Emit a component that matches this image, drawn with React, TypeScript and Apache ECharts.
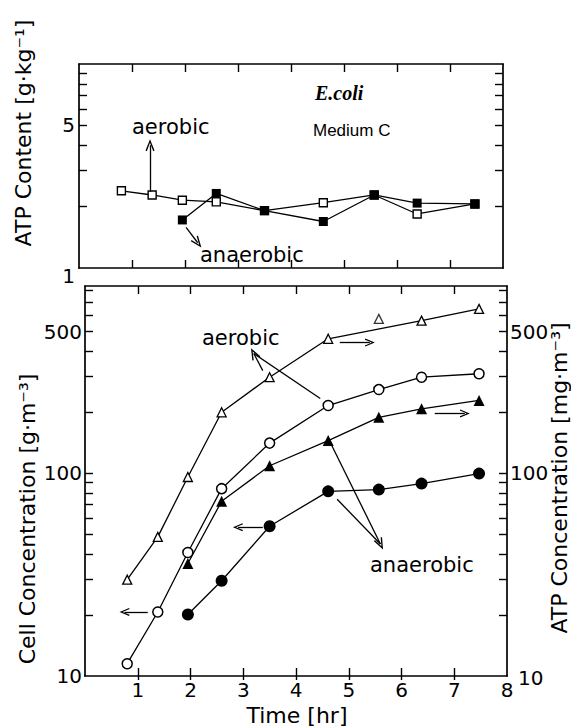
import React, { useEffect, useRef } from "react";
import * as echarts from "echarts";

// Sampling times [hr], shared by every curve
const hours = [0.8, 1.38, 1.95, 2.59, 3.5, 4.61, 5.57, 6.38, 7.47];
// anaerobic runs start at the third sampling time
const anaerobicStart = 2;

// ATP content [g/kg] (upper panel)
const atpContentAerobic = [2.39, 2.28, 2.15, 2.11, 1.91, 2.09, 2.28, 1.84, 2.06];
const atpContentAnaerobic = [1.72, 2.32, 1.91, 1.69, 2.28, 2.08, 2.06];

// Cell concentration [g/m3] (lower panel, left scale)
const cellAerobic = [11.5, 20.7, 40.7, 84, 141, 216, 259, 298, 310];
const cellAnaerobic = [20.1, 29.5, 54.8, 81.5, 83.1, 89, 99.7];

// ATP concentration [mg/m3] (lower panel, right scale)
const atpConcAerobic = [29.9, 48.6, 95.9, 200, 298, 461, 578, 567, 648];
const atpConcAnaerobic = [35.9, 72.8, 109, 145, 189, 208, 229];
// the 5.5 h aerobic ATP sample sits off its connecting line
const atpConcAerobicOffLine = [6];

// Axis ticks and labels
const hourTicks = [1, 2, 3, 4, 5, 6, 7];
const hourLabels = [1, 2, 3, 4, 5, 6, 7, 8];
const contentTicks = [2, 3, 4, 5, 6, 7, 8, 9];
const contentLabels = [1, 5];
const concTicks = [20, 30, 40, 50, 60, 70, 80, 90, 100, 200, 300, 400, 500, 600, 700, 800];
const concLabels = [10, 100, 500];

const black = "#000";
const FONT = "DejaVu Sans";
const ARROW = "path://M5,0 L10,12 L8.6,12.6 L5,3.8 L1.4,12.6 L0,12 Z";

const pairs = (vals: number[], start = 0) => vals.map((v, i) => [hours[start + i], v]);

const arrowTo = (from: number[], to: number[], size = [9, 12]) => [
  { coord: from, symbol: "none" },
  { coord: to, symbol: ARROW, symbolSize: size },
];
const plain = (from: number[], to: number[]) => [
  { coord: from, symbol: "none" },
  { coord: to, symbol: "none" },
];

const markLines = (data: any[]) => ({
  silent: true,
  animation: false,
  label: { show: false },
  emphasis: { disabled: true },
  lineStyle: { color: black, width: 1.3, type: "solid" },
  data,
});

const axisLineStyle = { color: black, width: 1.7 };
const tickLineStyle = { color: black, width: 1.4 };

const hAxis = (gridIndex: number, position: string, extra: any = {}) => ({
  type: "value",
  gridIndex,
  position,
  min: 0,
  max: 8,
  interval: 1,
  axisLine: { show: true, onZero: false, lineStyle: axisLineStyle },
  axisTick: { show: true, inside: true, length: 8, customValues: hourTicks, lineStyle: tickLineStyle },
  axisLabel: { show: false },
  splitLine: { show: false },
  ...extra,
});

const logAxis = (
  gridIndex: number,
  position: string,
  min: number,
  max: number,
  ticks: number[],
  labels: any
) => ({
  type: "log",
  logBase: 10,
  gridIndex,
  position,
  min,
  max,
  axisLine: { show: true, onZero: false, lineStyle: axisLineStyle },
  axisTick: { show: true, inside: true, length: 8, customValues: ticks, lineStyle: tickLineStyle },
  axisLabel: labels,
  minorTick: { show: false },
  splitLine: { show: false },
});

const tickLabel = (values: number[], margin: number, extra: any = {}) => ({
  show: true,
  customValues: values,
  color: black,
  fontFamily: FONT,
  fontSize: 20,
  margin,
  formatter: (v: number) => String(Math.round(v)),
  ...extra,
});

// lowest label of an axis is nudged (down / right) off the corner
const nudgedLowest = (lowest: number, padding: number[]) => ({
  formatter: (v: number) =>
    Math.round(v) === lowest ? `{low|${Math.round(v)}}` : String(Math.round(v)),
  rich: { low: { fontFamily: FONT, fontSize: 20, color: black, padding } },
});

const text = (x: number, y: number, s: string, extra: any = {}, rotation = 0) => ({
  type: "text",
  x,
  y,
  rotation,
  silent: true,
  style: {
    text: s,
    fill: black,
    fontFamily: FONT,
    fontSize: 21,
    align: "left",
    verticalAlign: "middle",
    ...extra,
  },
});

const titleStyle = { fontSize: 22, align: "center" };

const option: any = {
  animation: false,
  backgroundColor: "#fff",
  grid: [
    { left: 79, top: 64, width: 424, height: 204, outerBoundsMode: "none" },
    { left: 85, top: 286, width: 422, height: 390, outerBoundsMode: "none" },
  ],
  xAxis: [
    hAxis(0, "bottom"),
    hAxis(0, "top"),
    hAxis(1, "bottom", {
      axisLabel: tickLabel(hourLabels, 4),
    }),
    hAxis(1, "bottom", {
      axisLine: { show: false },
      axisTick: { show: true, inside: false, length: 4, customValues: hourTicks, lineStyle: tickLineStyle },
    }),
    hAxis(1, "top"),
  ],
  yAxis: [
    logAxis(0, "left", 1, 10, contentTicks, tickLabel(contentLabels, 4, nudgedLowest(1, [16, 0, 0, 0]))),
    logAxis(0, "right", 1, 10, contentTicks, { show: false }),
    logAxis(1, "left", 10, 840, concTicks, tickLabel(concLabels, 3)),
    logAxis(1, "right", 10, 840, concTicks, tickLabel(concLabels, 3, nudgedLowest(10, [4, 0, 0, 8]))),
  ],
  graphic: [
    text(23, 133, "ATP Content [g·kg⁻¹]", titleStyle, Math.PI / 2),
    text(27, 519, "Cell Concentration [g·m⁻³]", titleStyle, Math.PI / 2),
    text(559, 478, "ATP Concentration [mg·m⁻³]", titleStyle, Math.PI / 2),
    text(297, 715, "Time [hr]", titleStyle),
    text(315, 93, "E.coli", {
      fontFamily: "Liberation Serif",
      fontStyle: "italic",
      fontWeight: "bold",
      fontSize: 20,
    }),
    text(313, 130, "Medium C", { fontFamily: "Liberation Sans", fontSize: 17 }),
    text(132, 127, "aerobic"),
    text(200, 255, "anaerobic"),
    text(202, 338, "aerobic"),
    text(370, 565, "anaerobic"),
  ],
  series: [
    {
      name: "ATP content, aerobic",
      type: "line",
      xAxisIndex: 0,
      yAxisIndex: 0,
      symbol: "rect",
      symbolSize: 8,
      itemStyle: { color: "#fff", borderColor: black, borderWidth: 1.4 },
      lineStyle: { color: black, width: 1.3 },
      data: pairs(atpContentAerobic),
      markLine: markLines([arrowTo([1.34, 2.36], [1.34, 4.0])]),
      z: 3,
    },
    {
      name: "ATP content, anaerobic",
      type: "line",
      xAxisIndex: 0,
      yAxisIndex: 0,
      symbol: "rect",
      symbolSize: 9,
      itemStyle: { color: black, borderColor: black, borderWidth: 0 },
      lineStyle: { color: black, width: 1.3 },
      data: pairs(atpContentAnaerobic, anaerobicStart),
      markLine: markLines([arrowTo([2.02, 1.58], [2.24, 1.33])]),
      z: 4,
    },
    {
      name: "Cell concentration, aerobic",
      type: "line",
      xAxisIndex: 2,
      yAxisIndex: 2,
      symbol: "circle",
      symbolSize: 10,
      itemStyle: { color: "#fff", borderColor: black, borderWidth: 1.5 },
      lineStyle: { color: black, width: 1.3 },
      data: pairs(cellAerobic),
      markLine: markLines([arrowTo([1.19, 20.7], [0.75, 20.7], [8, 10])]),
      z: 4,
    },
    {
      name: "Cell concentration, anaerobic",
      type: "line",
      xAxisIndex: 2,
      yAxisIndex: 2,
      symbol: "circle",
      symbolSize: 12,
      itemStyle: { color: black, borderColor: black, borderWidth: 0 },
      lineStyle: { color: black, width: 1.3 },
      data: pairs(cellAnaerobic, anaerobicStart),
      markLine: markLines([
        arrowTo([3.37, 54.2], [2.9, 54.2], [8, 10]),
        plain([4.78, 74.5], [5.6, 44.8]),
        arrowTo([4.65, 142], [5.6, 44.8]),
      ]),
      z: 4,
    },
    {
      name: "ATP concentration, aerobic",
      type: "line",
      xAxisIndex: 2,
      yAxisIndex: 3,
      symbol: "triangle",
      symbolSize: 9,
      connectNulls: true,
      itemStyle: { color: "#fff", borderColor: black, borderWidth: 1.3 },
      lineStyle: { color: black, width: 1.3 },
      data: hours.map((h, i) => [h, atpConcAerobicOffLine.includes(i) ? null : atpConcAerobic[i]]),
      markLine: markLines([
        arrowTo([4.83, 442], [5.4, 442], [8, 10]),
        arrowTo([3.37, 321], [3.2, 390]),
        plain([4.46, 234], [3.2, 390]),
      ]),
      z: 4,
    },
    {
      name: "ATP concentration, aerobic (off line)",
      type: "scatter",
      xAxisIndex: 2,
      yAxisIndex: 3,
      symbol: "triangle",
      symbolSize: 9,
      itemStyle: { color: "#fff", borderColor: black, borderWidth: 1.3 },
      data: atpConcAerobicOffLine.map((i) => [hours[i], atpConcAerobic[i]]),
      z: 4,
    },
    {
      name: "ATP concentration, anaerobic",
      type: "line",
      xAxisIndex: 2,
      yAxisIndex: 3,
      symbol: "triangle",
      symbolSize: 11,
      itemStyle: { color: black, borderColor: black, borderWidth: 0 },
      lineStyle: { color: black, width: 1.3 },
      data: pairs(atpConcAnaerobic, anaerobicStart),
      markLine: markLines([arrowTo([6.63, 197.5], [7.2, 197.5], [8, 10])]),
      z: 4,
    },
  ],
};

export default function App() {
  const ref = useRef<HTMLDivElement>(null);
  useEffect(() => {
    if (!ref.current) return;
    const chart = echarts.init(ref.current, null, { renderer: "svg" });
    chart.setOption(option);
    return () => chart.dispose();
  }, []);
  return (
    <div
      ref={ref}
      style={{ position: "absolute", left: 0, top: 0, width: 571, height: 727, background: "#fff" }}
    />
  );
}
